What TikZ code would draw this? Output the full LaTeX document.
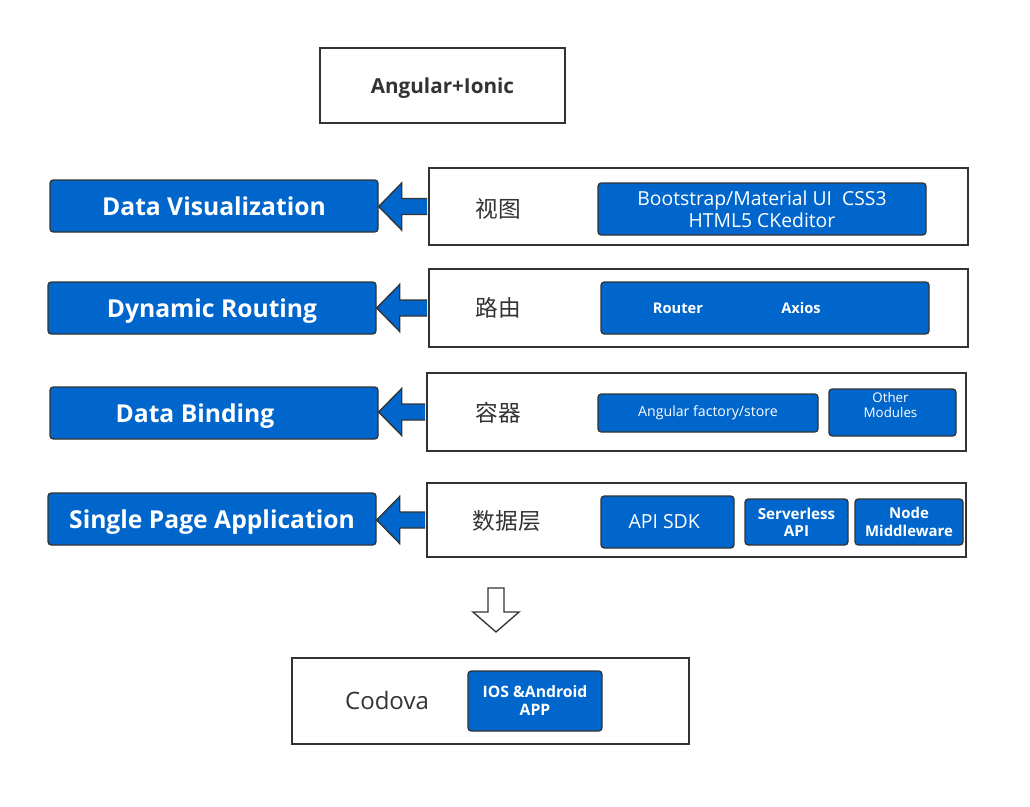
\documentclass[tikz,border=0pt]{standalone}
\usepackage{fontspec}
\setmainfont{Open Sans}
\newfontfamily\cjk{Noto Sans CJK SC}
\usetikzlibrary{positioning,calc}
\definecolor{boxblue}{HTML}{0066CC}
\definecolor{edge}{HTML}{333333}

% left pointing block arrow from a layer to its title
\newcommand\sidearrow[2]{
    \draw[blockarrow] ($(#1.west)+(-1,-8)$) -- ($(#2.east |- #1.west)+(23,-8)$)
        -- ($(#2.east |- #1.west)+(23,-23.5)$) -- (#2.east |- #1.west)
        -- ($(#2.east |- #1.west)+(23,23.5)$) -- ($(#2.east |- #1.west)+(23,8)$)
        -- ($(#1.west)+(-1,8)$);
}

\begin{document}
\begin{tikzpicture}[x=0.75pt,y=-0.75pt,
    layerbox/.style={draw=edge,line width=1.5pt,fill=white,inner sep=0pt,text=edge},
    tag/.style={draw=edge,line width=1pt,fill=boxblue,rounded corners=2.5pt,
        text=white,inner sep=0pt,align=center},
    headline/.style={tag,minimum width=328*0.75pt,minimum height=52*0.75pt,
        text height=14pt,text depth=0pt,font=\fontsize{18.5}{21}\selectfont\bfseries},
    layername/.style={text=edge,anchor=west,font=\cjk\fontsize{17}{20}\selectfont},
    blockarrow/.style={draw=edge,line width=1pt,fill=boxblue,line join=miter}]
    \useasboundingbox (0,0) rectangle (1030,806);

    %Top
    \node[layerbox,minimum width=245*0.75pt,minimum height=75*0.75pt,text height=12pt,text depth=0pt,
        font=\fontsize{15.5}{18}\selectfont\bfseries] at (442.5,85.5) (angular) {Angular+Ionic};

    %Layers
    \node[layerbox,minimum width=539*0.75pt,minimum height=77*0.75pt] at (698.5,206.5) (view) {};
    \node[layerbox,minimum width=539*0.75pt,minimum height=78*0.75pt] at (698.5,308) (route) {};
    \node[layerbox,minimum width=539*0.75pt,minimum height=78*0.75pt] at (696.5,412) (store) {};
    \node[layerbox,minimum width=539*0.75pt,minimum height=74*0.75pt] at (696.5,520) (data) {};

    \node[layername] at (471,209) (viewname) {视图};
    \node[layername] at (471,308) (routename) {路由};
    \node[layername] at (471,413) (storename) {容器};
    \node[layername] at (468,521) (dataname) {数据层};

    %Modules
    \node[tag,minimum width=328*0.75pt,minimum height=52*0.75pt,
        font=\fontsize{14.5}{16.5}\selectfont] at (762,209) (bootstrap)
        {Bootstrap/Material UI\ \ CSS3\\HTML5 CKeditor};
    \node[tag,minimum width=328*0.75pt,minimum height=52*0.75pt] at (765,308) (router) {};
    \node[text=white,font=\fontsize{11}{13}\selectfont\bfseries] at (678,308) (routertext) {Router};
    \node[text=white,font=\fontsize{11}{13}\selectfont\bfseries] at (801,308) (axiostext) {Axios};
    \node[tag,minimum width=220*0.75pt,minimum height=38*0.75pt,
        font=\fontsize{10.6}{12}\selectfont] at (708,413) (factory) {Angular factory/store};
    \node[tag,minimum width=127*0.75pt,minimum height=47*0.75pt] at (892.5,412.5) (other) {};
    \node[text=white,align=center,font=\fontsize{10}{11.5}\selectfont]
        at (890.5,405) (othertext) {Other\\Modules};
    \node[tag,minimum width=133*0.75pt,minimum height=52*0.75pt,
        font=\fontsize{14.6}{17}\selectfont] at (667.5,522) (sdk) {API SDK\hspace*{5pt}};
    \node[tag,minimum width=103*0.75pt,minimum height=46*0.75pt,
        font=\fontsize{11.4}{13}\selectfont\bfseries] at (796.5,522) (serverless) {Serverless\\API};
    \node[tag,minimum width=108*0.75pt,minimum height=46*0.75pt,
        font=\fontsize{11.2}{13}\selectfont\bfseries] at (909,522) (middleware) {Node\\Middleware};

    %Titles
    \node[headline] at (214,206) (vis) {Data Visualization};
    \node[headline] at (212,308) (routing) {Dynamic Routing};
    \node[headline] at (214,413) (binding) {Data Binding\hspace*{28.5pt}};
    \node[headline] at (212,519) (spa) {Single Page Application};

    %Arrows
    \sidearrow{view}{vis}
    \sidearrow{route}{routing}
    \sidearrow{store}{binding}
    \sidearrow{data}{spa}

    \coordinate (down) at (496,588);
    \draw[draw=edge,line width=1pt,fill=white,line join=miter] (down) ++(-8,0) -- ++(16,0)
        -- ++(0,24) -- ++(15,0) -- (496,632) -- ++(-23,-20) -- ++(15,0) -- cycle;

    %Bottom
    \node[layerbox,minimum width=397*0.75pt,minimum height=86*0.75pt] at (490.5,701) (codova) {};
    \node[text=edge,font=\fontsize{18}{21}\selectfont] at (387,700) (codovatext) {Codova};
    \node[tag,minimum width=134*0.75pt,minimum height=60*0.75pt,
        font=\fontsize{11.8}{13.5}\selectfont\bfseries] at (535,701) (ios) {IOS \&Android\\APP};
\end{tikzpicture}
\end{document}
